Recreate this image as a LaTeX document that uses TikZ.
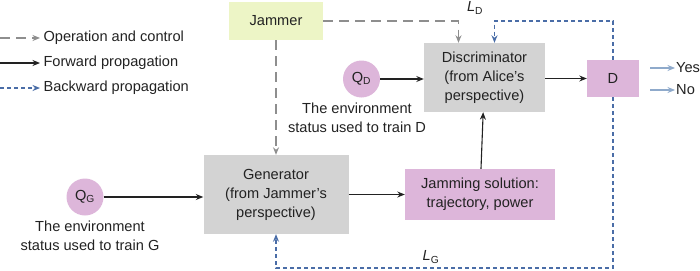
\documentclass[tikz,border=0pt]{standalone}
\usepackage{fontspec}
\setmainfont{Liberation Sans}
\usetikzlibrary{arrows.meta, positioning, calc}
\definecolor{boxgray}{HTML}{D3D3D3}
\definecolor{jampink}{HTML}{DDB6DA}
\definecolor{jamgreen}{HTML}{EDF5C6}
\definecolor{ctrlgray}{HTML}{8E8E8E}
\definecolor{backblue}{HTML}{4A6DA7}
\definecolor{outblue}{HTML}{8FAACB}
\definecolor{txtdark}{HTML}{222222}

\begin{document}
\begin{tikzpicture}[
    x=1pt, y=-1pt,
    >={Stealth[length=7.5pt, width=6pt]},
    every node/.style={text=txtdark, font=\fontsize{14.6}{19}\selectfont},
    graybox/.style={fill=boxgray, align=center, inner sep=2pt},
    pinkbox/.style={fill=jampink, align=center, inner sep=2pt},
    jambox/.style={fill=jamgreen, align=center, inner sep=2pt},
    envcirc/.style={circle, fill=jampink, inner sep=0pt},
    fwd/.style={->, txtdark, line width=1.1pt},
    ctrl/.style={->, ctrlgray, line width=1.1pt, dash pattern=on 10pt off 6pt},
    back/.style={->, backblue, line width=1.1pt, dash pattern=on 4pt off 3pt},
    outarrow/.style={->, outblue, line width=1.1pt},
  ]

  \useasboundingbox (0,0) rectangle (700,270);

  % === Legend ===
  \node[anchor=west] (legctrl) at (40,38) {Operation and control};
  \node[anchor=west] (legfwd) at (40,63) {Forward propagation};
  \node[anchor=west] (legback) at (40,88) {Backward propagation};
  \coordinate (legctrlstart) at (0,38);
  \coordinate (legfwdstart) at (0,63);
  \coordinate (legbackstart) at (0,88);
  \draw[ctrl] (legctrlstart) -- (legctrl.west);
  \draw[fwd] (legfwdstart) -- (legfwd.west);
  \draw[back] (legbackstart) -- (legback.west);

  % === Blocks ===
  \node[jambox, minimum width=94pt, minimum height=38pt] (jammer) at (276,21) {Jammer};
  \node[graybox, minimum width=121pt, minimum height=69pt] (disc) at (484.5,77.5)
    {Discriminator\\(from Alice's\\perspective)};
  \node[pinkbox, minimum width=52pt, minimum height=37pt] (dout) at (613,78.5) {D};
  \node[graybox, minimum width=145pt, minimum height=79pt] (gen) at (276,194.5)
    {Generator\\(from Jammer's\\perspective)};
  \node[pinkbox, minimum width=150pt, minimum height=51pt] (jamsol) at (480,194.5)
    {Jamming solution:\\trajectory, power};

  % Environment states
  \node[envcirc, minimum size=37pt] (qd) at (361.5,79) {Q\textsubscript{D}};
  \node[envcirc, minimum size=37pt] (qg) at (85,197) {Q\textsubscript{G}};
  \node[align=center] (qdtext) at (357,118) {The environment\\status used to train D};
  \node[align=center] (qgtext) at (90,236) {The environment\\status used to train G};

  % Outputs
  \node[anchor=west, inner sep=1pt] (yes) at (675,68) {Yes};
  \node[anchor=west, inner sep=1pt] (no) at (675,90) {No};
  \coordinate (yesstart) at (650,68);
  \coordinate (nostart) at (650,90);
  \draw[outarrow] (yesstart) -- (yes.west);
  \draw[outarrow] (nostart) -- (no.west);

  % === Forward propagation ===
  \draw[fwd] (qd) -- (qd -| disc.west);
  \draw[fwd] (qg) -- (qg -| gen.west);
  \draw[fwd] (gen.east |- jamsol) -- (jamsol);
  \draw[fwd] (jamsol) -- (disc);
  \draw[fwd] (disc.east |- dout) -- (dout);

  % === Operation and control ===
  \draw[ctrl] (jammer.east) -| ([xshift=-26pt]disc.north);
  \draw[ctrl] (jammer) -- (gen);

  % === Backward propagation (losses) ===
  \coordinate (ldcorner) at (613,21);
  \coordinate (lgcorner) at (613,268);
  \draw[back] (dout.north) -- (ldcorner) -| ([xshift=10pt]disc.north);
  \draw[back] (dout.south) -- (lgcorner) -| (gen.south);
  \node (ldlabel) at (475,8) {\textit{L}\textsubscript{D}};
  \node (lglabel) at (431,257) {\textit{L}\textsubscript{G}};

\end{tikzpicture}
\end{document}
